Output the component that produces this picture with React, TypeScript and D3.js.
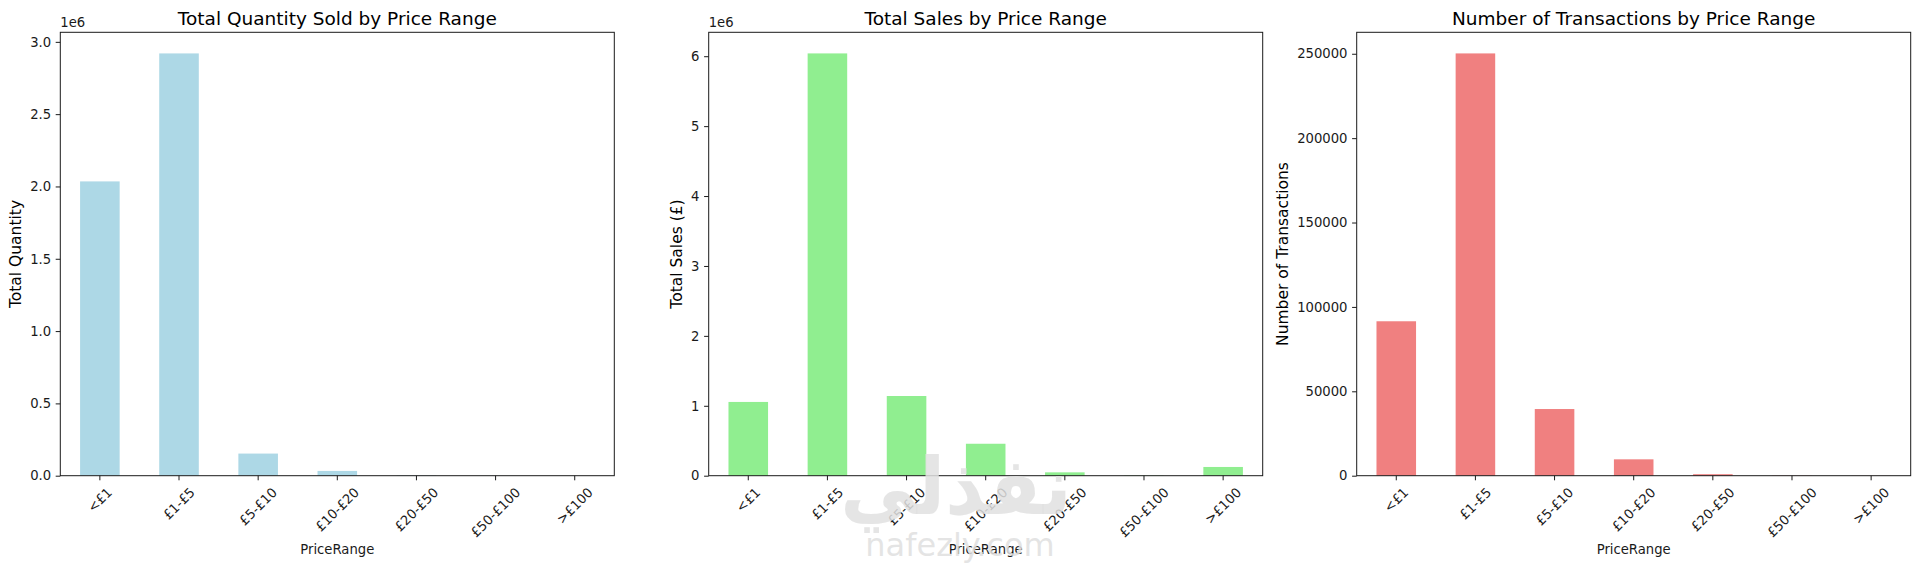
import React, { useRef, useEffect } from 'react';
import * as d3 from 'd3';

const PRICE_RANGES = ['<£1', '£1-£5', '£5-£10', '£10-£20', '£20-£50', '£50-£100', '>£100'];

const TOTAL_QUANTITY = [2035000, 2920000, 153000, 33000, 2500, 400, 150];
const TOTAL_SALES = [1055000, 6040000, 1140000, 457000, 48000, 4000, 125000];
const TRANSACTIONS = [91500, 250200, 39500, 9700, 900, 120, 60];

const QTY_TICKS = [0, 0.5e6, 1e6, 1.5e6, 2e6, 2.5e6, 3e6];
const SALES_TICKS = [0, 1e6, 2e6, 3e6, 4e6, 5e6, 6e6];
const TXN_TICKS = [0, 50000, 100000, 150000, 200000, 250000];

const PANELS = [
  {
    title: 'Total Quantity Sold by Price Range',
    yLabel: 'Total Quantity',
    values: TOTAL_QUANTITY,
    ticks: QTY_TICKS,
    format: (d: number) => (d / 1e6).toFixed(1),
    offset: '1e6',
    color: '#ADD8E6',
  },
  {
    title: 'Total Sales by Price Range',
    yLabel: 'Total Sales (£)',
    values: TOTAL_SALES,
    ticks: SALES_TICKS,
    format: (d: number) => String(d / 1e6),
    offset: '1e6',
    color: '#90EE90',
  },
  {
    title: 'Number of Transactions by Price Range',
    yLabel: 'Number of Transactions',
    values: TRANSACTIONS,
    ticks: TXN_TICKS,
    format: (d: number) => String(d),
    offset: '',
    color: '#F08080',
  },
];

const W = 1920;
const H = 569;
const PANEL_LEFT = [60.3, 708.7, 1356.7];
const PLOT_W = 554;
const PLOT_TOP = 32.3;
const PLOT_BOTTOM = 475.7;
const FONT = '"DejaVu Sans", sans-serif';
const FS_TICK = 13.2;
const FS_LABEL = 15.5;
const FS_TITLE = 18.5;
const TICK_LEN = 4.6;
const TICK_PAD = 4.6;
const INK = '#1a1a1a';

export default function App() {
  const svgRef = useRef<SVGSVGElement>(null);

  useEffect(() => {
    document.body.style.margin = '0';
    const svg = d3.select(svgRef.current);
    svg.selectAll('*').remove();
    if (!svgRef.current) return;

    svg.append('rect').attr('width', W).attr('height', H).attr('fill', 'white');

    PANELS.forEach((p, i) => {
      const left = PANEL_LEFT[i];
      const right = left + PLOT_W;
      const cx = (left + right) / 2;

      const x = d3.scaleBand<string>()
        .domain(PRICE_RANGES).range([left, right])
        .paddingInner(0.5).paddingOuter(0.25);
      const y = d3.scaleLinear()
        .domain([0, (d3.max(p.values) as number) * 1.05])
        .range([PLOT_BOTTOM, PLOT_TOP]);

      const g = svg.append('g').attr('font-family', FONT);

      // bars
      g.selectAll('rect.bar').data(p.values).join('rect')
        .attr('class', 'bar')
        .attr('x', (_, j) => x(PRICE_RANGES[j]) as number)
        .attr('y', (d) => y(d))
        .attr('width', x.bandwidth())
        .attr('height', (d) => y(0) - y(d))
        .attr('fill', p.color);

      // y axis
      const yAxis = g.append('g')
        .attr('transform', `translate(${left},0)`)
        .call(d3.axisLeft(y).tickValues(p.ticks).tickFormat((d) => p.format(d as number))
          .tickSize(TICK_LEN).tickPadding(TICK_PAD).tickSizeOuter(0));
      yAxis.select('.domain').remove();
      yAxis.attr('font-size', FS_TICK).attr('font-family', FONT);
      yAxis.selectAll('line').attr('stroke', INK).attr('stroke-width', 1);
      yAxis.selectAll('text').attr('fill', INK);
      const yBox = (yAxis.node() as SVGGElement).getBBox();
      const tickLeft = left + yBox.x;

      // x ticks with rotated labels
      let maxBottom = PLOT_BOTTOM;
      PRICE_RANGES.forEach((cat) => {
        const tx = (x(cat) as number) + x.bandwidth() / 2;
        g.append('line')
          .attr('x1', tx).attr('x2', tx)
          .attr('y1', PLOT_BOTTOM).attr('y2', PLOT_BOTTOM + TICK_LEN)
          .attr('stroke', INK).attr('stroke-width', 1);
        const t = g.append('text').text(cat)
          .attr('font-size', FS_TICK).attr('fill', INK)
          .attr('text-anchor', 'middle').attr('dominant-baseline', 'central');
        const w = (t.node() as SVGTextElement).getComputedTextLength();
        const half = ((w + FS_TICK * 1.1) * Math.SQRT1_2) / 2;
        const ty = PLOT_BOTTOM + TICK_LEN + TICK_PAD + half;
        t.attr('transform', `translate(${tx},${ty}) rotate(-45)`);
        maxBottom = Math.max(maxBottom, ty + half);
      });

      // frame
      g.append('rect')
        .attr('x', left).attr('y', PLOT_TOP)
        .attr('width', PLOT_W).attr('height', PLOT_BOTTOM - PLOT_TOP)
        .attr('fill', 'none').attr('stroke', INK).attr('stroke-width', 1);

      // title
      g.append('text').text(p.title)
        .attr('x', cx).attr('y', PLOT_TOP - 7.3)
        .attr('text-anchor', 'middle').attr('font-size', FS_TITLE).attr('fill', '#000');

      // offset text
      if (p.offset) {
        g.append('text').text(p.offset)
          .attr('x', left).attr('y', PLOT_TOP - 5)
          .attr('font-size', FS_TICK).attr('fill', INK);
      }

      // y label
      const ly = (PLOT_TOP + PLOT_BOTTOM) / 2;
      const lx = tickLeft - 5.3 - FS_LABEL * 0.6;
      g.append('text').text(p.yLabel)
        .attr('transform', `translate(${lx},${ly}) rotate(-90)`)
        .attr('text-anchor', 'middle').attr('dominant-baseline', 'central')
        .attr('font-size', FS_LABEL).attr('fill', '#000');

      // x label
      g.append('text').text('PriceRange')
        .attr('x', cx).attr('y', maxBottom + 13.5)
        .attr('text-anchor', 'middle').attr('font-size', FS_TICK).attr('fill', INK);
    });

    // watermark
    const wm = svg.append('g').attr('font-family', FONT).attr('text-anchor', 'middle')
      .attr('fill', '#e0e0e0').attr('fill-opacity', 0.85);
    wm.append('text').text('نفذلي')
      .attr('transform', 'translate(956,514) scale(1.05,1.1)')
      .attr('font-size', 72).attr('font-weight', 'bold');
    wm.append('text').text('nafezly.com')
      .attr('x', 960).attr('y', 556).attr('font-size', 32);
  }, []);

  return <svg ref={svgRef} width={W} height={H} style={{ display: 'block' }} />;
}
